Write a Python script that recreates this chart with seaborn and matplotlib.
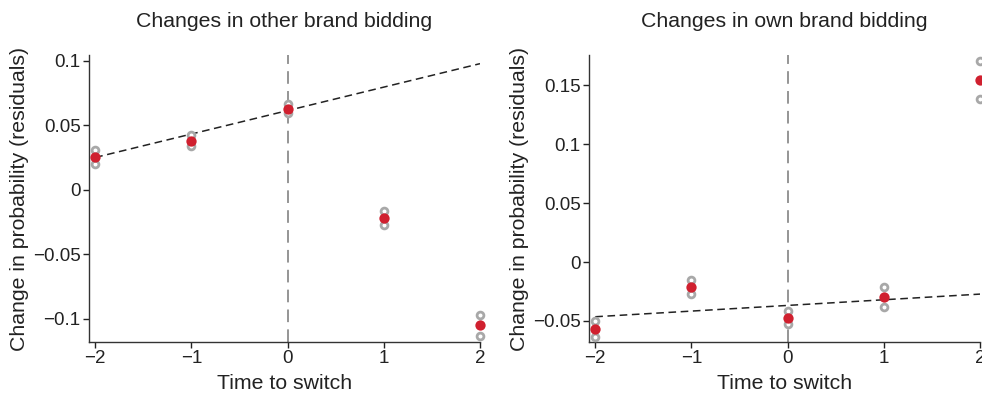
import matplotlib
matplotlib.use("Agg")
import matplotlib.pyplot as plt
import numpy as np
import pandas as pd
import seaborn as sns

# ---- data ----
time_to_switch = [-2, -1, 0, 1, 2]

# other brand bidding
other_mean = [0.025, 0.0374, 0.0628, -0.0220, -0.1052]
other_upper = [0.0308, 0.0424, 0.0667, -0.0163, -0.0971]
other_lower = [0.0196, 0.0336, 0.0597, -0.0271, -0.1132]
other_fit_x = [-2, 2]
other_fit_y = [0.025, 0.0977]

# own brand bidding
own_mean = [-0.0566, -0.0215, -0.0473, -0.0300, 0.1545]
own_upper = [-0.0498, -0.0156, -0.0419, -0.0215, 0.1703]
own_lower = [-0.0634, -0.0272, -0.0524, -0.0385, 0.1386]
own_fit_x = [-2, 2]
own_fit_y = [-0.0464, -0.0272]

panel_titles = ["Changes in other brand bidding", "Changes in own brand bidding"]
other_yticks = [-0.1, -0.05, 0, 0.05, 0.1]
own_yticks = [-0.05, 0, 0.05, 0.1, 0.15]

RED = "#d0202f"
GRAY = "#a8a8a8"

sns.set_theme(style="ticks")
plt.rcParams["font.family"] = ["Liberation Sans", "DejaVu Sans"]
plt.rcParams["axes.unicode_minus"] = True


def fmt_tick(v):
    if v == 0:
        return "0"
    s = f"{abs(v):g}"
    return ("\u2212" + s) if v < 0 else s


def draw_panel(ax, mean, upper, lower, fit_x, fit_y, title, yticks, ylim):
    df = pd.DataFrame({"t": time_to_switch, "mean": mean, "upper": upper, "lower": lower})
    ax.axvline(0, color="#8c8c8c", lw=1.3, ls=(0, (7, 4)), zorder=1)
    sns.lineplot(x=fit_x, y=fit_y, ax=ax, color="#222222", lw=1.1,
                 linestyle=(0, (5, 3)), zorder=2)
    for col in ["upper", "lower"]:
        sns.scatterplot(data=df, x="t", y=col, ax=ax, s=24, marker="o",
                        facecolor="white", edgecolor=GRAY, linewidth=2.0,
                        zorder=3, clip_on=False)
    sns.scatterplot(data=df, x="t", y="mean", ax=ax, s=55, color=RED,
                    edgecolor=RED, linewidth=0, zorder=4, clip_on=False)

    ax.set_xlim(-2.065, 2.0)
    ax.set_ylim(*ylim)
    ax.set_xticks(time_to_switch)
    ax.set_xticklabels([fmt_tick(v) for v in time_to_switch])
    ax.set_yticks(yticks)
    ax.set_yticklabels([fmt_tick(v) for v in yticks])
    ax.set_title(title, fontsize=15.3, color="#222222", pad=20)
    ax.set_xlabel("Time to switch", fontsize=15.3, color="#222222", labelpad=5)
    ax.set_ylabel("Change in probability (residuals)", fontsize=15.3,
                  color="#222222", labelpad=3)
    ax.tick_params(axis="both", labelsize=13.5, colors="#222222",
                   length=4, width=1, direction="out", pad=2)
    for side in ["top", "right"]:
        ax.spines[side].set_visible(False)
    for side in ["left", "bottom"]:
        ax.spines[side].set_color("#333333")
        ax.spines[side].set_linewidth(1.0)


fig = plt.figure(figsize=(9.82, 3.93), dpi=100)
ax1 = fig.add_axes([0.0906, 0.1298, 0.3982, 0.7302])
ax2 = fig.add_axes([0.5998, 0.1298, 0.3982, 0.7302])

draw_panel(ax1, other_mean, other_upper, other_lower, other_fit_x, other_fit_y,
           panel_titles[0], other_yticks, (-0.118, 0.1044))
draw_panel(ax2, own_mean, own_upper, own_lower, own_fit_x, own_fit_y,
           panel_titles[1], own_yticks, (-0.0678, 0.1755))

fig.savefig("out.png", dpi=100)
